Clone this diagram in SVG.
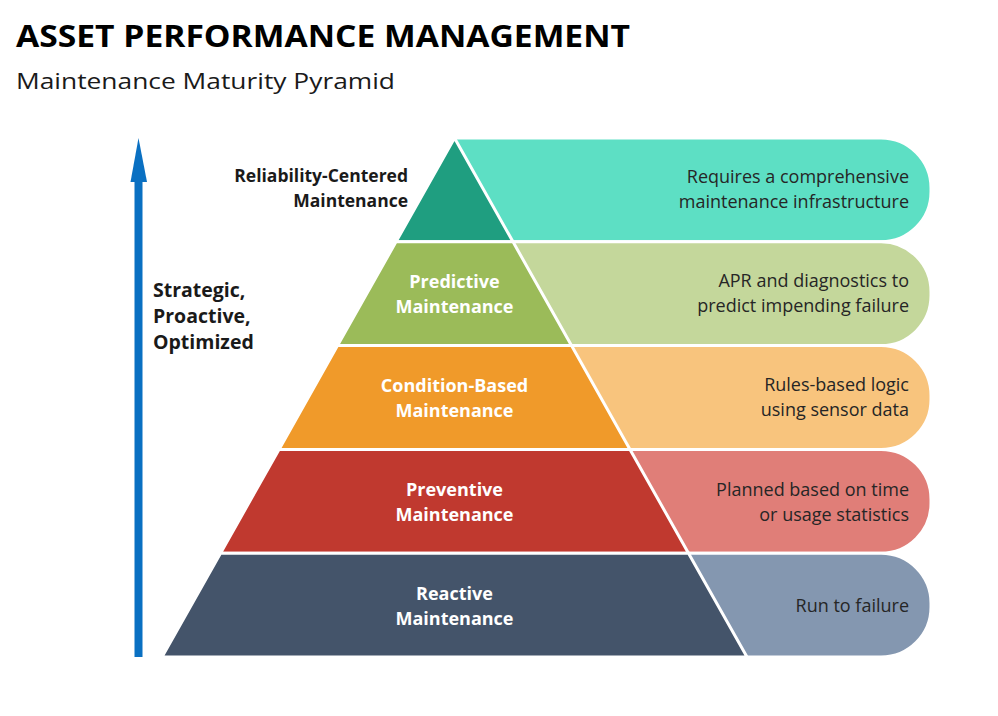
<svg xmlns="http://www.w3.org/2000/svg" width="998" height="716" viewBox="0 0 998 716">
<style>
.band{stroke:#fff;stroke-width:3}
.layer{stroke:#fff;stroke-width:3;stroke-linejoin:miter}
.lab{font-family:"Open Sans","Liberation Sans",sans-serif;font-weight:bold;font-size:18px;fill:#fff;text-anchor:middle}
.desc{font-family:"Open Sans","Liberation Sans",sans-serif;font-size:18px;fill:#262626;text-anchor:end}
.side{font-family:"Open Sans","Liberation Sans",sans-serif;font-weight:bold;fill:#1a1a1a}
</style>
<rect width="998" height="716" fill="#fff"/>
<text x="16" y="47" font-family="'Open Sans','Liberation Sans',sans-serif" font-weight="bold" font-size="31" fill="#000" textLength="614" lengthAdjust="spacingAndGlyphs">ASSET PERFORMANCE MANAGEMENT</text>
<text x="16" y="89" font-family="'Open Sans','Liberation Sans',sans-serif" font-size="22.5" fill="#1a1a1a" textLength="379" lengthAdjust="spacingAndGlyphs">Maintenance Maturity Pyramid</text>

<g id="arrow">
<rect x="134.5" y="178" width="8" height="479" fill="#0a70c2"/>
<polygon points="130.5,182 138.5,138 147,182" fill="#0a70c2"/>
</g>
<text class="side" font-size="19.5"><tspan x="153" y="297">Strategic,</tspan><tspan x="153" y="323">Proactive,</tspan><tspan x="153" y="349">Optimized</tspan></text>

<g id="bands">
<path id="band-rcm" class="band" fill="#5ddfc4" d="M454.5 138 H881 A50 50 0 0 1 931 188 V191.8 A50 50 0 0 1 881 241.8 H454.5 Z"/>
<path id="band-pdm" class="band" fill="#c4d79b" d="M454.5 241.8 H881 A50 50 0 0 1 931 291.8 V295.6 A50 50 0 0 1 881 345.6 H454.5 Z"/>
<path id="band-cbm" class="band" fill="#f8c47d" d="M454.5 345.6 H881 A50 50 0 0 1 931 395.6 V399.4 A50 50 0 0 1 881 449.4 H454.5 Z"/>
<path id="band-pm" class="band" fill="#e07e78" d="M454.5 449.4 H881 A50 50 0 0 1 931 499.4 V503.2 A50 50 0 0 1 881 553.2 H454.5 Z"/>
<path id="band-rm" class="band" fill="#8497b0" d="M454.5 553.2 H881 A50 50 0 0 1 931 603.2 V607 A50 50 0 0 1 881 657 H454.5 Z"/>
</g>

<g id="layer-rcm">
<polygon class="layer" fill="#1f9e80" points="454.5,138 513,241.8 396,241.8"/>
</g>
<g id="layer-pdm">
<polygon class="layer" fill="#9bbb59" points="396,241.8 513,241.8 571.5,345.6 337.5,345.6"/>
<text class="lab"><tspan x="454.5" y="288">Predictive</tspan><tspan x="454.5" y="313">Maintenance</tspan></text>
</g>
<g id="layer-cbm">
<polygon class="layer" fill="#f09a2a" points="337.5,345.6 571.5,345.6 630,449.4 279,449.4"/>
<text class="lab"><tspan x="454.5" y="392">Condition-Based</tspan><tspan x="454.5" y="417">Maintenance</tspan></text>
</g>
<g id="layer-pm">
<polygon class="layer" fill="#c0392f" points="279,449.4 630,449.4 688.5,553.2 220.5,553.2"/>
<text class="lab"><tspan x="454.5" y="496">Preventive</tspan><tspan x="454.5" y="521">Maintenance</tspan></text>
</g>
<g id="layer-rm">
<polygon class="layer" fill="#44546a" points="220.5,553.2 688.5,553.2 747,657 162,657"/>
<text class="lab"><tspan x="454.5" y="600">Reactive</tspan><tspan x="454.5" y="625">Maintenance</tspan></text>
</g>

<text class="side" font-size="17.5" text-anchor="end"><tspan x="408" y="182">Reliability-Centered</tspan><tspan x="408" y="207">Maintenance</tspan></text>

<g id="descriptions">
<text class="desc"><tspan x="909" y="183">Requires a comprehensive</tspan><tspan x="909" y="208">maintenance infrastructure</tspan></text>
<text class="desc"><tspan x="909" y="287">APR and diagnostics to</tspan><tspan x="909" y="312">predict impending failure</tspan></text>
<text class="desc"><tspan x="909" y="391">Rules-based logic</tspan><tspan x="909" y="416">using sensor data</tspan></text>
<text class="desc"><tspan x="909" y="496">Planned based on time</tspan><tspan x="909" y="521">or usage statistics</tspan></text>
<text class="desc"><tspan x="909" y="612">Run to failure</tspan></text>
</g>
</svg>
